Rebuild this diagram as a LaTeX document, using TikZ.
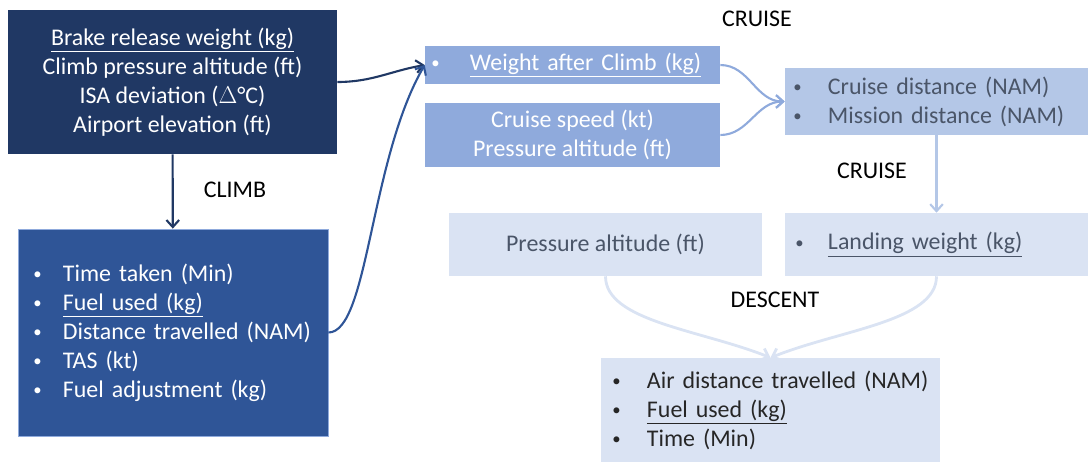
\documentclass[tikz,border=0pt]{standalone}
\usepackage{fontspec}
\setmainfont{Carlito}
\usetikzlibrary{arrows.meta}
\definecolor{navy}{HTML}{203864}
\definecolor{mid}{HTML}{2F5597}
\definecolor{lite}{HTML}{8FAADC}
\definecolor{pale}{HTML}{B4C7E7}
\definecolor{paler}{HTML}{DAE3F3}
\definecolor{greytext}{HTML}{4A5568}
\newcommand{\bul}[1]{\makebox[#1][l]{\hspace{1pt}\raisebox{0.15ex}{\scalebox{0.7}{\textbullet}}}}

\begin{document}
\begin{tikzpicture}[x=0.025cm,y=-0.025cm,>={Straight Barb[length=5pt,width=9pt]}]
        \tikzstyle{every node} = [rectangle, inner sep=0pt, font=\fontsize{17}{20.6}\selectfont]
        \tikzstyle{box} = [fill=#1, minimum height=1cm]
        \tikzstyle{lbl} = [text=black]
        \useasboundingbox (0,0) rectangle (1090,462);

        \node[box=navy, text=white, align=center, minimum width=8.225cm, minimum height=3.6cm] (1) at (172.5,82)
            {\underline{Brake release weight (kg)}\\Climb pressure altitude (ft)\\ISA deviation ($\Delta$°C)\\Airport elevation (ft)};
        \node[box=mid, draw=lite, line width=0.5pt, text=white, align=left, inner xsep=0.35cm, text width=7.05cm, minimum height=5.175cm] (2) at (173,332.5)
            {\bul{0.775cm}Time taken (Min)\\\bul{0.775cm}\underline{Fuel used (kg)}\\\bul{0.775cm}Distance travelled (NAM)\\\bul{0.775cm}TAS (kt)\\\bul{0.775cm}Fuel adjustment (kg)};
        \node[box=lite, text=white, align=left, inner xsep=0.125cm, text width=7.125cm, minimum height=0.95cm] (3) at (572.5,65)
            {\bul{1.0cm}\underline{Weight after Climb (kg)}};
        \node[box=lite, text=white, align=center, minimum width=7.375cm, minimum height=1.6cm] (4) at (572.5,135)
            {Cruise speed (kt)\\Pressure altitude (ft)};
        \node[box=pale, text=greytext, align=left, inner xsep=0.175cm, text width=7.225cm, minimum height=1.675cm] (5) at (936.5,101.5)
            {\bul{0.9cm}Cruise distance (NAM)\\\bul{0.9cm}Mission distance (NAM)};
        \node[box=paler, text=greytext, align=center, minimum width=7.825cm, minimum height=1.575cm] (6) at (605.5,244.5)
            {Pressure altitude (ft)};
        \node[box=paler, text=greytext, align=left, inner xsep=0.225cm, text width=7.125cm, minimum height=1.575cm] (7) at (936.5,244.5)
            {\bul{0.85cm}\underline{Landing weight (kg)}};
        \node[box=paler, text=black!85, align=left, inner xsep=0.25cm, text width=7.975cm, minimum height=2.6cm] (8) at (770.5,410)
            {\bul{0.9cm}Air distance travelled (NAM)\\\bul{0.9cm}\underline{Fuel used (kg)}\\\bul{0.9cm}Time (Min)};

        \node[lbl] (c) at (235,190) {CLIMB};
        \node[lbl] (r1) at (757,19) {CRUISE};
        \node[lbl] (r2) at (872,171) {CRUISE};
        \node[lbl] (d) at (775,300) {DESCENT};

        \draw[->, navy, line width=1.5pt] (1) -- (2);
        \draw[->, navy, line width=1.5pt] (1.east) to[out=0,in=190] (3.west);
        \draw[->, mid, line width=1.5pt] (2.east) .. controls +(40,0) and +(-55,95) .. (3.west);
        \draw[->, lite, line width=1.5pt] (3.east) to[out=0,in=180] (5.west);
        \draw[->, lite, line width=1.5pt] (4.east) to[out=0,in=180] (5.west);
        \draw[->, pale, line width=1.5pt] (5) -- (7);
        \draw[->, paler, line width=2pt] (6.south) .. controls +(0,45) and +(-70,-28) .. (8.north);
        \draw[->, paler, line width=2pt] (7.south) .. controls +(0,45) and +(70,-28) .. (8.north);
\end{tikzpicture}
\end{document}
